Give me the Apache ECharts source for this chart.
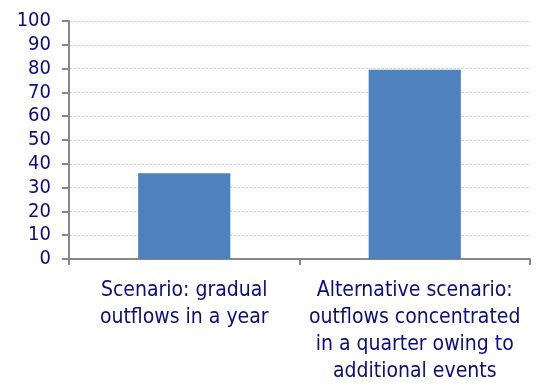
<!DOCTYPE html>
<html><head><meta charset="utf-8">
<script src="https://cdn.jsdelivr.net/npm/echarts@6/dist/echarts.min.js"></script>
<style>html,body{margin:0;padding:0;background:#fff}#c{width:541px;height:386px}</style>
</head><body><div id="c"></div>
<script>
const categories = ["Scenario: gradual\noutflows in a year", "Alternative scenario:\noutflows concentrated\nin a quarter owing to\nadditional events"];
const values = [36, 79.5];
const yTicks = [0, 10, 20, 30, 40, 50, 60, 70, 80, 90, 100];

const textColor = '#0c0c80';
const font = 'DejaVu Sans Condensed';
const chart = echarts.init(document.getElementById('c'), null, {renderer: 'canvas'});
chart.setOption({
  animation: false,
  grid: {left: 69, right: 11, top: 21, bottom: 127, containLabel: false},
  xAxis: {
    type: 'category',
    data: categories,
    axisLine: {lineStyle: {color: '#878787', width: 2}},
    axisTick: {show: true, length: 6, lineStyle: {color: '#878787', width: 2}, alignWithLabel: false},
    axisLabel: {color: textColor, fontFamily: font, fontSize: 21, lineHeight: 27, margin: 18, interval: 0}
  },
  yAxis: {
    type: 'value',
    min: yTicks[0], max: yTicks[yTicks.length - 1], interval: 10,
    axisLine: {show: true, lineStyle: {color: '#878787', width: 2}},
    axisTick: {show: true, length: 7, lineStyle: {color: '#878787', width: 2}},
    splitLine: {show: true, lineStyle: {color: '#d4d4d4', width: 1, type: [3, 1]}},
    axisLabel: {color: textColor, fontFamily: font, fontSize: 20, margin: 18}
  },
  series: [{
    type: 'bar',
    data: values,
    barWidth: '40%',
    itemStyle: {color: '#4f81bd'}
  }]
});
</script></body></html>
